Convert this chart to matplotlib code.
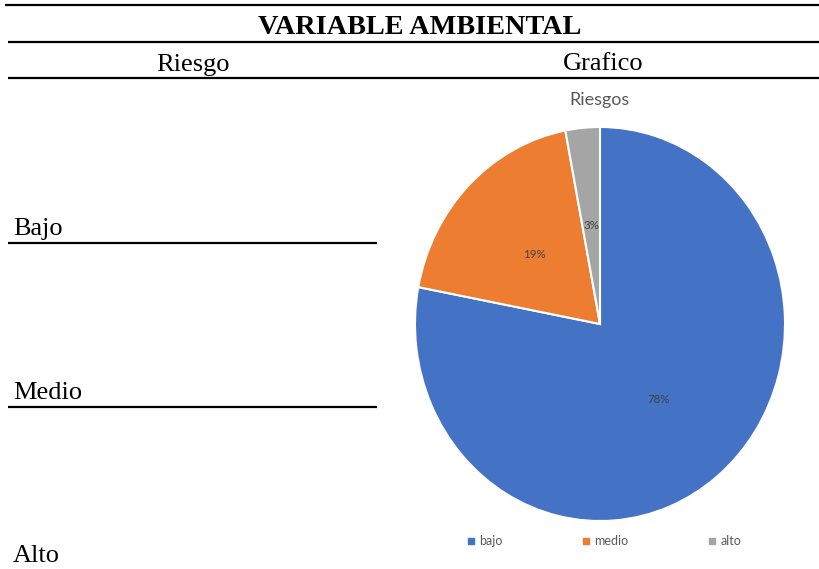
import matplotlib
matplotlib.use("Agg")
import matplotlib.pyplot as plt
from matplotlib.lines import Line2D

# ---- data ----
categories = ["bajo", "medio", "alto"]
values = [78, 19, 3]
colors = ["#4472C4", "#ED7D31", "#A5A5A5"]
row_labels = ["Bajo", "Medio", "Alto"]
header_title = "VARIABLE AMBIENTAL"
col_headers = ["Riesgo", "Grafico"]
chart_title = "Riesgos"

W, H = 820, 569
fig = plt.figure(figsize=(W / 100, H / 100), dpi=100)

def fx(px):
    return px / W

def fy(py):
    return 1 - py / H

serif = "Liberation Serif"
sans = "Lato"

# ---- table frame ----
for (x0, x1, y) in [(5, 820, 5), (8, 820, 42), (8, 820, 78), (8, 377, 242.5), (8, 377, 406.5)]:
    fig.add_artist(Line2D([fx(x0), fx(x1)], [fy(y), fy(y)], color="black", lw=1.6,
                          solid_capstyle="butt", transform=fig.transFigure))

fig.text(fx(420), fy(34.5), header_title, ha="center", va="baseline",
         family=serif, fontweight="bold", fontsize=20.3)
fig.text(fx(193), fy(70.5), col_headers[0], ha="center", va="baseline", family=serif, fontsize=19)
fig.text(fx(603), fy(70.5), col_headers[1], ha="center", va="baseline", family=serif, fontsize=19)

for lab, by in zip(row_labels, [235, 399, 562]):
    fig.text(fx(13), fy(by), lab, ha="left", va="baseline", family=serif, fontsize=19)

# ---- pie ----
ax = fig.add_axes([fx(415), fy(521), fx(785) - fx(415), (521 - 127) / H])
wedges, texts, autotexts = ax.pie(values, colors=colors, startangle=90, counterclock=False,
                                  autopct=lambda p: f"{p:.0f}%", pctdistance=0.5,
                                  wedgeprops=dict(edgecolor="white", linewidth=1.5))
ax.set_aspect("auto")
ax.set_xlim(-1, 1)
ax.set_ylim(-1, 1)
for t in autotexts:
    t.set_fontsize(8.3)
    t.set_color("#404040")
    t.set_family(sans)

fig.text(fx(600), fy(100), chart_title, ha="center", va="center", family=sans,
         fontsize=13, color="#595959")

handles = [Line2D([], [], marker="s", linestyle="none", markersize=4.5,
                  markerfacecolor=c, markeredgecolor=c) for c in colors]
leg = fig.legend(handles, categories, loc="center", bbox_to_anchor=(fx(604), fy(541)),
                 ncol=3, frameon=False, handlelength=0.6, handletextpad=0.35,
                 columnspacing=6.4, prop=dict(family=sans, size=9))
for t in leg.get_texts():
    t.set_color("#595959")

fig.savefig("out.png", dpi=100, facecolor="white")
